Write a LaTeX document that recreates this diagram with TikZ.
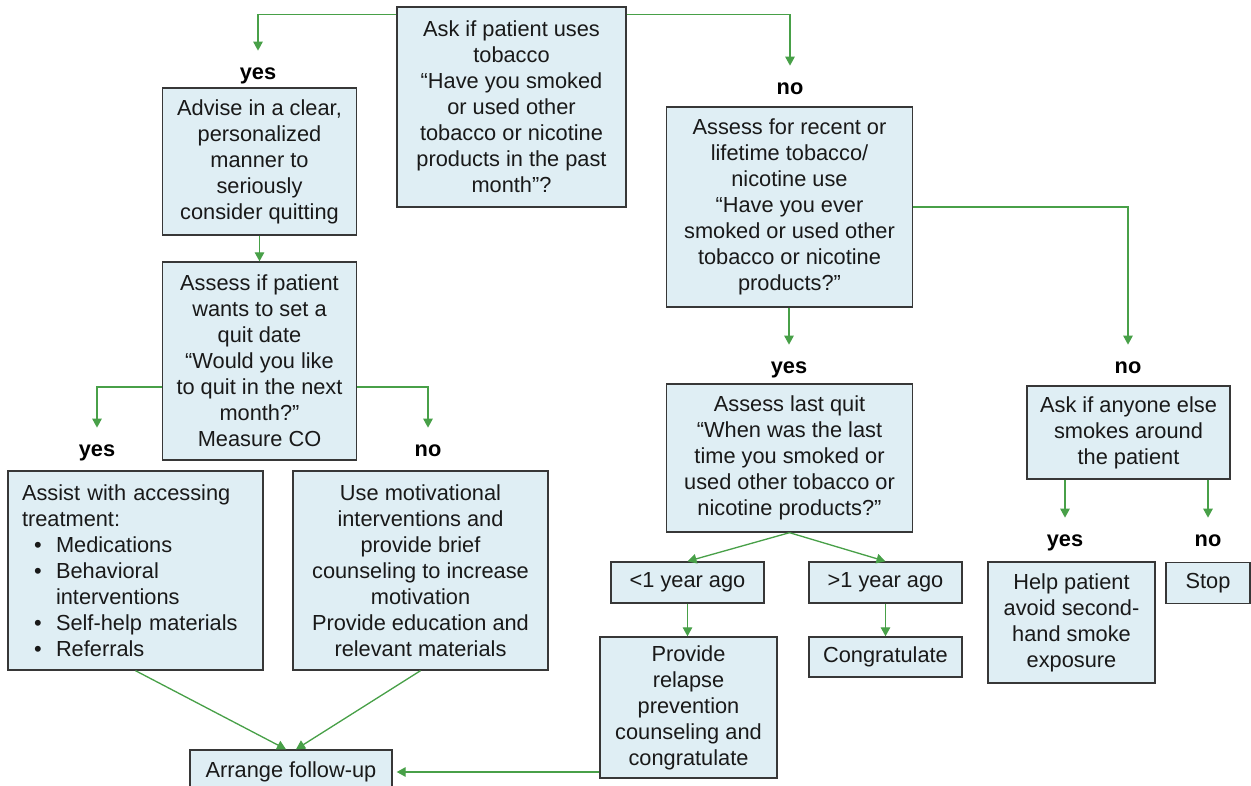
\documentclass[tikz,border=0pt]{standalone}
\usepackage{fontspec}
\setmainfont{Liberation Sans}
\usetikzlibrary{arrows.meta}

\definecolor{boxfill}{RGB}{223,238,244}
\definecolor{boxline}{RGB}{55,55,55}
\definecolor{flowgreen}{RGB}{72,160,72}

\begin{document}
\begin{tikzpicture}[x=0.02cm, y=-0.02cm,
stage/.style={draw=boxline, line width=0.8pt, fill=boxfill, align=center, inner sep=0pt, text=black!90, font=\fontsize{12.4}{14.8}\selectfont},
answer/.style={inner sep=0pt, minimum height=0.84cm, text height=9pt, text depth=0pt, text=black, font=\fontsize{12.4}{14.8}\selectfont\bfseries},
flow/.style={draw=flowgreen, line width=0.75pt, -{Triangle[length=0.18cm, width=0.19cm]}}]
\tikzstyle{pill}=[stage, minimum width=3.06cm, minimum height=0.82cm]
\useasboundingbox (0,0) rectangle (1251,786);

%Ask
\node[stage, minimum width=4.58cm, minimum height=4cm] (ask) at (511.5,107) {Ask if patient uses\\tobacco\\“Have you smoked\\or used other\\tobacco or nicotine\\products in the past\\month”?};
\node[answer] (yesA) at (258,72) {yes};
\node[answer] (noA) at (790,87) {no};

%Current use
\node[stage, minimum width=3.88cm, minimum height=2.94cm] (advise) at (259.5,161.5) {Advise in a clear,\\personalized\\manner to\\seriously\\consider quitting};
\node[stage, minimum width=3.88cm, minimum height=3.96cm] (wants) at (259.5,361) {Assess if patient\\wants to set a\\quit date\\“Would you like\\to quit in the next\\month?”\\Measure CO};
\node[answer] (yesB) at (97,449) {yes};
\node[answer] (noB) at (428,449) {no};
\node[stage, align=left, text width=4.54cm, inner xsep=0.28cm, minimum height=3.98cm] (assist) at (135.5,570.5) {Assist with accessing\\treatment:\\
\makebox[0.68cm][l]{\hspace*{0.24cm}\textbullet}Medications\\
\makebox[0.68cm][l]{\hspace*{0.24cm}\textbullet}Behavioral\\
\hspace*{0.68cm}interventions\\
\makebox[0.68cm][l]{\hspace*{0.24cm}\textbullet}Self-help materials\\
\makebox[0.68cm][l]{\hspace*{0.24cm}\textbullet}Referrals};
\node[stage, minimum width=5.1cm, minimum height=3.98cm] (motiv) at (420.5,570.5) {Use motivational\\interventions and\\provide brief\\counseling to increase\\motivation\\Provide education and\\relevant materials};
\node[stage, minimum width=4.04cm, minimum height=0.88cm] (follow) at (291,772) {Arrange follow-up};

%Lifetime use
\node[stage, minimum width=4.92cm, minimum height=4cm] (lifetime) at (789.5,207) {Assess for recent or\\lifetime tobacco/\\nicotine use\\“Have you ever\\smoked or used other\\tobacco or nicotine\\products?”};
\node[answer] (yesC) at (789,366) {yes};
\node[answer] (noC) at (1128,366) {no};
\node[stage, minimum width=4.92cm, minimum height=2.96cm] (lastquit) at (789.5,458) {Assess last quit\\“When was the last\\time you smoked or\\used other tobacco or\\nicotine products?”};
\node[pill] (lt) at (687.5,582.5) {<1 year ago};
\node[pill] (gt) at (885.5,582.5) {>1 year ago};
\node[stage, minimum width=3.54cm, minimum height=2.82cm] (provide) at (688.5,707.5) {Provide\\relapse\\prevention\\counseling and\\congratulate};
\node[pill, minimum height=0.8cm] (congrat) at (885.5,657) {Congratulate};

%Others
\node[stage, minimum width=4.06cm, minimum height=1.86cm] (anyone) at (1128.5,432.5) {Ask if anyone else\\smokes around\\the patient};
\node[answer] (yesD) at (1065,539) {yes};
\node[answer] (noD) at (1208,539) {no};
\node[stage, minimum width=3.34cm, minimum height=2.42cm] (help) at (1071.5,622.5) {Help patient\\avoid second-\\hand smoke\\exposure};
\node[stage, minimum width=1.68cm, minimum height=0.82cm] (stop) at (1208,583) {Stop};

%Arrows
\draw[flow] ([yshift=-0.16cm]ask.north west) -| (yesA.north);
\draw[flow] ([yshift=-0.16cm]ask.north east) -| (noA.north);
\draw[flow] (advise.south) -- (wants.north);
\draw[flow] ([yshift=-0.52cm]wants.west) -| (yesB.north);
\draw[flow] ([yshift=-0.52cm]wants.east) -| (noB.north);
\draw[flow] (assist.south) -- ([xshift=-0.1cm]follow.north);
\draw[flow] (motiv.south) -- ([xshift=0.1cm]follow.north);
\draw[flow, shorten >=0.08cm] (provide.west |- follow.east) -- (follow.east);
\draw[flow] (lifetime.south -| yesC) -- (yesC.north);
\draw[flow] (lifetime.east) -| (noC.north);
\draw[flow] (lastquit.south) -- (lt.north);
\draw[flow] (lastquit.south) -- (gt.north);
\draw[flow] (lt.south) -- (lt.south |- provide.north);
\draw[flow] (gt.south) -- (congrat.north);
\draw[flow] (anyone.south -| yesD) -- (yesD.north);
\draw[flow] (anyone.south -| noD) -- (noD.north);
\end{tikzpicture}
\end{document}
